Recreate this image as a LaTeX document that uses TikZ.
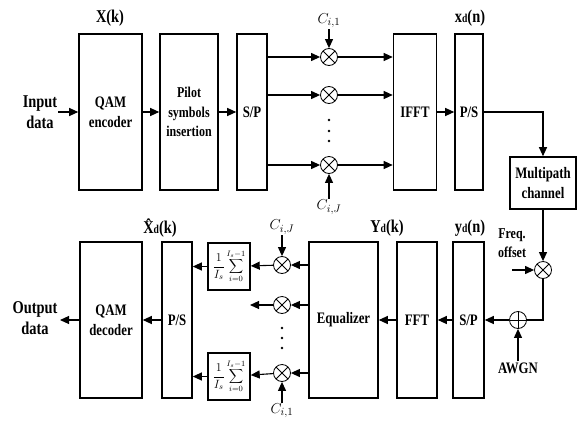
\documentclass[tikz,border=0pt]{standalone}
\usepackage{fontspec}
\setmainfont{Liberation Serif}[FakeStretch=0.8]
\usetikzlibrary{positioning, arrows.meta, calc}

\begin{document}
\begin{tikzpicture}[
    x=1pt, y=-1pt,
    >={Triangle[length=9pt,width=8pt]},
    % Styles for nodes
    block/.style={draw, rectangle, line width=1.6pt, minimum height=156pt, inner sep=0pt, align=center, font=\fontsize{16}{20}\selectfont\bfseries},
    sumbox/.style={draw, rectangle, line width=1.4pt, minimum width=42pt, minimum height=47pt, inner sep=0pt, font=\fontsize{12}{14}\selectfont},
    mult/.style={draw, circle, line width=0.8pt, minimum size=17pt, inner sep=0pt,
        path picture={\draw[line width=0.8pt] (path picture bounding box.north west) -- (path picture bounding box.south east)
            (path picture bounding box.north east) -- (path picture bounding box.south west);}},
    adder/.style={draw, circle, line width=0.8pt, minimum size=17pt, inner sep=0pt,
        path picture={\draw[line width=0.8pt] (path picture bounding box.north) -- (path picture bounding box.south)
            (path picture bounding box.east) -- (path picture bounding box.west);}},
    txt/.style={align=center, inner sep=1pt, font=\fontsize{18}{21}\selectfont\bfseries},
    sig/.style={inner sep=1pt, font=\fontsize{18}{20}\selectfont\bfseries},
    coef/.style={inner sep=1pt, font=\fontsize{15}{16}\selectfont},
    link/.style={->, line width=1.1pt}
]
    \useasboundingbox (0,0) rectangle (577,423);

    % Transmitter
    \node (input) [txt] at (40,112) {Input\\data};
    \node (qamenc) [block, minimum width=63pt] at (110.5,112) {QAM\\encoder};
    \node (pilot) [block, minimum width=58pt, font=\fontsize{15}{19.5}\selectfont\bfseries] at (189,112) {Pilot\\symbols\\insertion};
    \node (sp) [block, minimum width=30pt] at (252,112) {S/P};
    \node (ifft) [block, minimum width=43pt] at (415,112) {IFFT};
    \node (ps) [block, minimum width=28pt] at (469,112) {P/S};
    \node (xk) [sig] at (110,18) {X(k)};
    \node (xn) [sig] at (470,18) {x{\fontsize{12}{12}\selectfont d}(n)};

    \node (ma) [mult] at (329,57) {};
    \node (mb) [mult] at (329,95) {};
    \node (mc) [mult] at (329,165) {};
    \node (ca) [coef] at (329,21) {$C_{i,1}$};
    \node (cc) [coef] at (329,207) {$C_{i,J}$};
    \foreach \d in {120,131,141} \fill (329,\d) circle (1.3);

    \node (channel) [draw, rectangle, line width=1.6pt, minimum width=66pt, minimum height=52pt, align=center, inner sep=0pt, font=\fontsize{16}{20}\selectfont\bfseries] at (543,183) {Multipath\\channel};

    % Receiver
    \node (fo) [mult] at (543,270) {};
    \node (freq) [txt, font=\fontsize{15}{19}\selectfont\bfseries] at (512,243) {Freq.\\offset};
    \coordinate (fin) at (512,270);
    \node (add) [adder] at (518,320) {};
    \node (awgn) [txt, font=\fontsize{16}{19}\selectfont\bfseries] at (518,368) {AWGN};

    \node (sp2) [block, minimum width=31pt] at (468.5,320) {S/P};
    \node (fft) [block, minimum width=40pt] at (417,320) {FFT};
    \node (eq) [block, minimum width=69pt] at (343.5,320) {Equalizer};
    \node (ps2) [block, minimum width=30pt] at (177,320) {P/S};
    \node (qamdec) [block, minimum width=62pt] at (111,320) {QAM\\decoder};
    \node (output) [txt] at (35,318) {Output\\data};
    \coordinate (out) at (60,320);
    \node (yk) [sig] at (387,228) {Y{\fontsize{12}{12}\selectfont d}(k)};
    \node (yn) [sig] at (470,228) {y{\fontsize{12}{12}\selectfont d}(n)};
    \node (xhat) [sig] at (160,228) {\^{X}{\fontsize{12}{12}\selectfont d}(k)};

    \node (md) [mult] at (282,265) {};
    \node (me) [mult] at (282,305) {};
    \node (mf) [mult] at (282,373) {};
    \coordinate (mend) at (250,305);
    \node (cd) [coef] at (282,227) {$C_{i,J}$};
    \node (cf) [coef] at (282,411) {$C_{i,1}$};
    \foreach \d in {328,338,348} \fill (282,\d) circle (1.3);

    \node (suma) [sumbox] at (229,266.5) {$\displaystyle\frac{1}{I_s}\sum_{i=0}^{I_s-1}$};
    \node (sumb) [sumbox] at (229,376.5) {$\displaystyle\frac{1}{I_s}\sum_{i=0}^{I_s-1}$};

    % Arrows, transmitter
    \draw [link] (input.east |- qamenc) -- (qamenc);
    \draw [link] (qamenc) -- (pilot);
    \draw [link] (pilot) -- (sp);
    \foreach \m in {ma,mb,mc} {
        \draw [link] (sp.east |- \m) -- (\m);
        \draw [link] (\m) -- (ifft.west |- \m);
    }
    \draw [link] (ca) -- (ma);
    \draw [link] (cc) -- (mc);
    \draw [link] (ifft) -- (ps);
    \draw [link] (ps.east |- ifft) -| (channel.north);

    % Arrows, receiver
    \draw [link] (channel) -- (fo);
    \draw [link] (fin) -- (fo);
    \draw [line width=1.1pt] (fo) |- (add);
    \draw [link] (awgn) -- (add);
    \draw [link] (add) -- (sp2);
    \draw [link] (sp2) -- (fft);
    \draw [link] (fft) -- (eq);
    \foreach \m in {md,me,mf} \draw [link] (eq.west |- \m) -- (\m);
    \draw [link] (cd) -- (md);
    \draw [link] (cf) -- (mf);
    \draw [link] (md) -- (suma);
    \draw [link] (mf) -- (sumb);
    \draw [link] (me) -- (mend);
    \draw [link] (suma) -- (ps2.east |- suma);
    \draw [link] (sumb) -- (ps2.east |- sumb);
    \draw [link] (ps2) -- (qamdec);
    \draw [link] (qamdec) -- (out);

\end{tikzpicture}
\end{document}
